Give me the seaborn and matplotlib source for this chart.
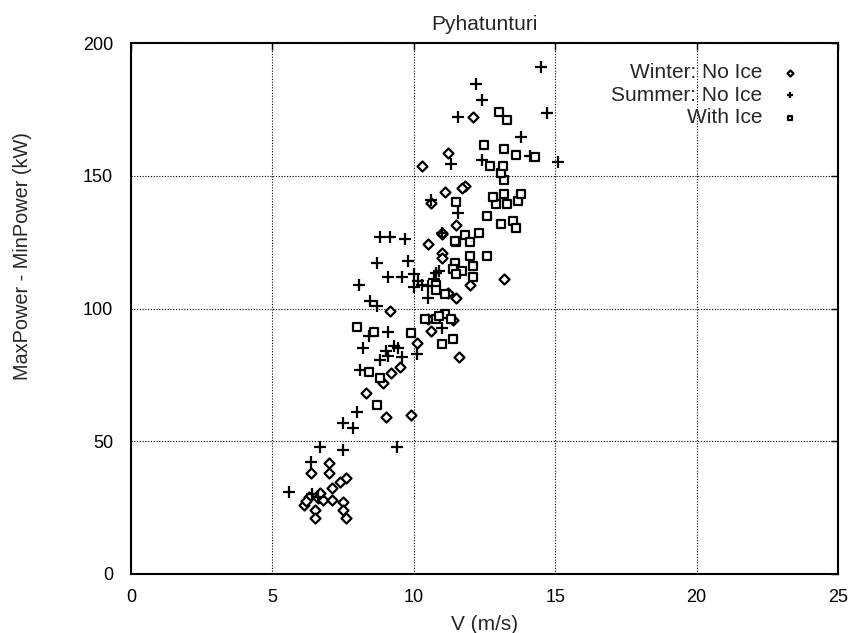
import matplotlib
matplotlib.use("Agg")
import matplotlib.pyplot as plt
import seaborn as sns
import pandas as pd

# Winter: No Ice (diamonds)
winter_v = [7.0, 6.36, 7.0, 7.6, 7.4, 7.1, 6.3, 6.6, 6.1, 6.5, 6.5, 6.8, 7.1, 7.5, 7.5, 7.6, 6.2, 6.7,
            9.16, 10.6, 11.4, 10.1, 8.9, 9.2, 9.5, 8.3, 9.0, 9.9, 11.0, 10.5, 11.0, 11.2, 11.5, 11.6,
            10.5, 11.0, 13.2, 12.0, 11.5, 11.0, 10.6, 11.1, 11.8, 11.2, 10.3, 12.1, 11.7]
winter_p = [41.7, 38, 38, 36, 34.6, 32.3, 29, 28.5, 26, 24, 21, 28, 28, 27, 24, 21, 27.5, 30.5,
            99, 91.7, 95.5, 87, 71.8, 75.6, 78, 68, 59, 60, 128, 124.4, 121, 106, 104, 81.6,
            96, 119, 111, 109, 131.5, 128.5, 139.6, 143.7, 146, 158.6, 153.8, 172, 145.5]

# Summer: No Ice (plus)
summer_v = [6.68, 7.5, 6.36, 5.6, 6.4, 6.6, 9.4, 8.0, 7.5, 7.85, 8.1, 8.8, 9.1, 9.6, 10.1, 8.2,
            9.45, 8.4, 9.1, 8.7, 8.45, 8.06, 9.1, 9.6, 10.0, 10.15, 10.8, 10.5, 10.5, 8.7, 9.8,
            8.8, 9.15, 9.7, 11.0, 10.9, 10.0, 10.3, 11.55, 10.6, 11.3, 12.4, 11.55, 12.2, 12.4,
            14.5, 14.7, 13.8, 14.1, 15.1, 11.0, 10.7, 9.0, 9.3]
summer_p = [47.7, 46.6, 42, 31, 30, 29, 48, 61, 57, 55, 77, 80.5, 82, 81.6, 83, 85,
            85, 89.5, 91, 101, 103, 109, 112, 112, 113, 110.5, 113.5, 108.6, 104, 117, 118,
            127, 127, 126, 92.5, 114, 108, 109, 136, 141, 154.6, 156, 172, 184.5, 178.5,
            191, 173.5, 164.6, 157.5, 155, 128.5, 111, 84, 86]

# With Ice (squares)
ice_v = [8.0, 8.6, 8.4, 8.8, 8.7, 9.9, 10.4, 10.8, 11.1, 11.0, 11.4, 10.8, 10.8, 11.1, 11.5,
         11.46, 11.4, 11.7, 11.5, 12.1, 12.1, 12.0, 12.6, 11.46, 11.8, 12.0, 12.3, 12.6, 13.1,
         13.5, 13.6, 11.5, 12.9, 13.3, 13.7, 13.8, 12.8, 13.2, 13.2, 13.1, 12.7, 13.15, 12.5,
         13.2, 13.6, 14.3, 13.0, 13.3, 10.9, 11.3]
ice_p = [93, 91, 76, 74, 63.5, 90.6, 96, 96, 98, 86.8, 88.7, 109, 107, 105.6, 125,
         117, 115, 114, 113, 116, 112, 119.6, 119.6, 125.5, 127.5, 125, 128.6, 135, 132,
         133, 130.5, 140, 139.5, 139.5, 140.6, 143, 142, 143, 148.5, 151, 153.7, 153.7, 161.6,
         160, 158, 157, 174, 171, 97, 96]

labels = ["Winter: No Ice", "Summer: No Ice", "With Ice"]
x_ticks = [0, 5, 10, 15, 20, 25]
y_ticks = [0, 50, 100, 150, 200]

sns.set_style("white")
plt.rcParams["font.family"] = ["Liberation Sans", "DejaVu Sans"]

fig = plt.figure(figsize=(8.53, 6.33), dpi=100)
ax = fig.add_axes([131 / 853, 1 - 574 / 633, (838 - 131) / 853, (574 - 43) / 633])

dw = pd.DataFrame({"V": winter_v, "P": winter_p})
ds = pd.DataFrame({"V": summer_v, "P": summer_p})
di = pd.DataFrame({"V": ice_v, "P": ice_p})

sns.scatterplot(data=dw, x="V", y="P", marker="D", s=26, facecolor="white",
                edgecolor="black", linewidth=1.6, label=labels[0], ax=ax, zorder=3)
sns.scatterplot(data=ds, x="V", y="P", marker="+", s=70, color="black",
                linewidth=1.6, label=labels[1], ax=ax, zorder=3)
sns.scatterplot(data=di, x="V", y="P", marker="s", s=34, facecolor="white",
                edgecolor="black", linewidth=1.6, label=labels[2], ax=ax, zorder=3)

ax.set_xlim(0, 25)
ax.set_ylim(0, 200)
ax.set_xticks(x_ticks)
ax.set_yticks(y_ticks)
ax.grid(True, linestyle=(0, (1, 1.5)), color="black", linewidth=0.8)
ax.set_axisbelow(True)
for sp in ax.spines.values():
    sp.set_visible(True)
    sp.set_color("black")
    sp.set_linewidth(1.5)
ax.tick_params(direction="in", top=True, right=True, length=5, width=1,
               labelsize=13, colors="black")
ax.tick_params(axis="x", pad=11)
ax.tick_params(axis="y", pad=13)
ax.set_xlabel("V (m/s)", fontsize=15, labelpad=6)
ax.set_ylabel("MaxPower - MinPower (kW)", fontsize=14.3)
ax.yaxis.set_label_coords(-0.140, 0.599)
ax.set_title("Pyhatunturi", fontsize=15, pad=9)

leg = ax.legend(loc="upper right", frameon=False, markerfirst=False, fontsize=15,
                handletextpad=0.9, labelspacing=0.17, borderaxespad=0.0,
                bbox_to_anchor=(0.955, 0.978),
                handlelength=0.8, markerscale=0.6)
for t in leg.get_texts():
    t.set_ha("right")

fig.savefig("out.png", dpi=100)
